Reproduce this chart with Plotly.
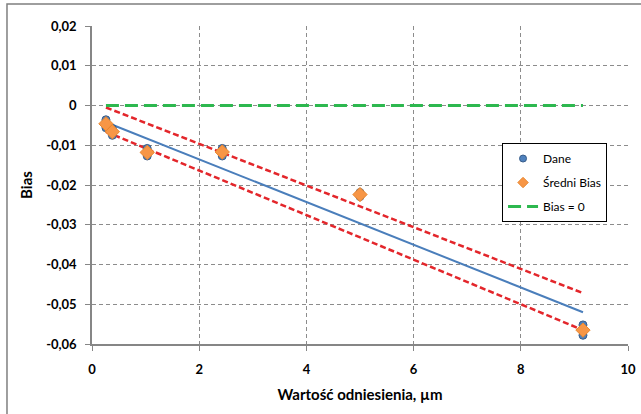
import plotly.graph_objects as go

# --- data ---
ref_x = [0.26, 0.38, 1.03, 2.43, 5.0, 9.16]
dane_bias = [
    [-0.0036, -0.0046, -0.0056],
    [-0.0058, -0.0066, -0.0075],
    [-0.0108, -0.0118, -0.0127],
    [-0.0108, -0.0117, -0.0127],
    [-0.0219, -0.0224, -0.0229],
    [-0.0552, -0.0565, -0.0578],
]
mean_bias = [-0.0046, -0.0066, -0.0118, -0.0117, -0.0224, -0.0565]

fit_x = [0.26, 9.16]
fit_y = [-0.0042, -0.0520]
upper_y = [-0.0005, -0.0472]
lower_y = [-0.0066, -0.0565]
zero_y = [0.0, 0.0]

y_ticks = [0.02, 0.01, 0.0, -0.01, -0.02, -0.03, -0.04, -0.05, -0.06]
y_ticktext = ["0,02", "0,01", "0", "-0,01", "-0,02", "-0,03", "-0,04", "-0,05", "-0,06"]
x_ticks = [0, 2, 4, 6, 8, 10]

# flatten Dane
dx, dy = [], []
for xv, ys in zip(ref_x, dane_bias):
    for yv in ys:
        dx.append(xv)
        dy.append(yv)

FONT = "Lato"
BLUE, BLUE_D = "#4F81BD", "#385D8A"
ORANGE, ORANGE_D = "#F79646", "#E9872E"
GREEN = "#2DB84F"
RED = "#E3262B"

fig = go.Figure()

fig.add_trace(go.Scatter(x=fit_x, y=upper_y, mode="lines", showlegend=False,
                         line=dict(color=RED, width=2.5, dash="6px,3px")))
fig.add_trace(go.Scatter(x=fit_x, y=lower_y, mode="lines", showlegend=False,
                         line=dict(color=RED, width=2.5, dash="6px,3px")))
fig.add_trace(go.Scatter(x=fit_x, y=fit_y, mode="lines", showlegend=False,
                         line=dict(color="#4A7EBB", width=2)))

fig.add_trace(go.Scatter(x=dx, y=dy, mode="markers", showlegend=False,
                         marker=dict(symbol="circle", size=8, color=BLUE,
                                     line=dict(color=BLUE_D, width=1))))
fig.add_trace(go.Scatter(x=ref_x, y=mean_bias, mode="markers", showlegend=False,
                         marker=dict(symbol="diamond", size=11, color=ORANGE,
                                     line=dict(color=ORANGE_D, width=1))))
fig.add_trace(go.Scatter(x=fit_x, y=zero_y, mode="lines", showlegend=False,
                         line=dict(color=GREEN, width=3, dash="13px,6px")))

# legend entries (small symbols like the reference)
fig.add_trace(go.Scatter(x=[None], y=[None], mode="markers", name="Dane", legendgroup="a",
                         marker=dict(symbol="circle", size=7, color=BLUE,
                                     line=dict(color=BLUE_D, width=1))))
fig.add_trace(go.Scatter(x=[None], y=[None], mode="markers", name="Średni Bias", legendgroup="b",
                         marker=dict(symbol="diamond", size=8, color=ORANGE,
                                     line=dict(color=ORANGE_D, width=1))))
fig.add_trace(go.Scatter(x=[None], y=[None], mode="lines", name="Bias = 0", legendgroup="c",
                         line=dict(color=GREEN, width=3, dash="13px,6px")))

grid = dict(showgrid=True, gridcolor="#8C8C8C", gridwidth=1, griddash="4px,3px")

fig.update_layout(
    width=641, height=414,
    margin=dict(l=92, r=13, t=26, b=70, autoexpand=False),
    paper_bgcolor="white", plot_bgcolor="white",
    font=dict(family=FONT, color="black"),
    xaxis=dict(range=[0, 10], tickvals=x_ticks, ticks="outside", ticklen=5,
               tickcolor="#868686", showline=True, linecolor="#868686", linewidth=1.5,
               tickfont=dict(size=13, family=FONT, weight="bold"), zeroline=False,
               ticklabelstandoff=8, automargin=False,
               title=dict(text="Wartość odniesienia, µm", font=dict(size=15, weight="bold"),
                          standoff=13),
               **grid),
    yaxis=dict(range=[-0.06, 0.02], tickvals=y_ticks, ticktext=y_ticktext, ticks="outside",
               ticklen=5, tickcolor="#868686", showline=True, linecolor="#868686", linewidth=1.5,
               tickfont=dict(size=13, family=FONT, weight="bold"), zeroline=False,
               ticklabelstandoff=6, automargin=False,
               title=dict(text="Bias", font=dict(size=15, weight="bold"), standoff=10),
               **grid),
    legend=dict(x=0.765, y=0.632, xanchor="left", yanchor="top",
                bgcolor="white", bordercolor="black", borderwidth=1,
                font=dict(size=12, family=FONT), tracegroupgap=5,
                traceorder="grouped"),
    shapes=[
        dict(type="rect", xref="paper", yref="paper", x0=-0.1586, x1=1.3, y0=-0.4, y1=1.069,
             line=dict(color="#7F7F7F", width=1.5), fillcolor="rgba(0,0,0,0)", layer="below"),
    ],
)

fig.write_html("out.html", config={"displayModeBar": False},
               post_script="document.body.style.margin='0px';document.body.style.overflow='hidden';")
